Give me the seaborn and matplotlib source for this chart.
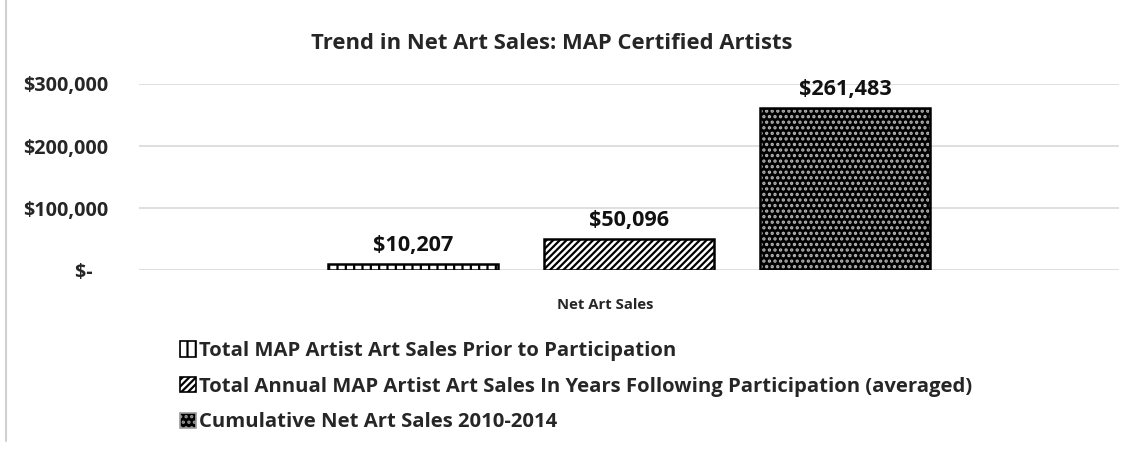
import matplotlib
matplotlib.use("Agg")
import matplotlib.pyplot as plt
import matplotlib.patches as mpatches
from matplotlib.lines import Line2D
import seaborn as sns
import pandas as pd

# chart data
category = ["Net Art Sales"]
series = [
    "Total MAP Artist Art Sales Prior to Participation",
    "Total Annual MAP Artist Art Sales In Years Following Participation (averaged)",
    "Cumulative Net Art Sales 2010-2014",
]
values = [10207, 50096, 261483]
y_ticks = [0, 100000, 200000, 300000]
y_tick_labels = ["$-   ", "$100,000", "$200,000", "$300,000"]

df = pd.DataFrame({"cat": category * len(series), "series": series, "value": values})

sns.set_style("white")
plt.rcParams["font.family"] = ["Open Sans", "DejaVu Sans"]
plt.rcParams["font.weight"] = "bold"
plt.rcParams["hatch.linewidth"] = 1.6

fig = plt.figure(figsize=(11.28, 4.55), dpi=100)
ax = fig.add_axes([0.1232, 0.4055, 0.8688, 0.41])

sns.barplot(data=df, x="cat", y="value", hue="series", hue_order=series,
            width=0.661, gap=0.21, ax=ax, legend=False, saturation=1)

faces = ["white", "white", "black"]
hatches = ["||", "/////", "..."]
edges = ["black", "black", "#b5b5b5"]
patches = list(ax.patches)
for p, fc, h, ec in zip(patches, faces, hatches, edges):
    p.set_facecolor(fc)
    p.set_hatch(h)
    p.set_edgecolor(ec)
    p.set_linewidth(0)
    # outline on top
    ax.add_patch(mpatches.Rectangle(p.get_xy(), p.get_width(), p.get_height(),
                                    fill=False, edgecolor="black", linewidth=1.8, zorder=3))

for cont in ax.containers:
    ax.bar_label(cont, labels=[f"${v:,.0f}" for v in cont.datavalues],
                 padding=6, fontsize=15.6, fontweight="bold", color="#111111")

ax.set_xlim(-0.5, 0.5)
ax.set_ylim(0, 300000)
ax.set_yticks(y_ticks)
ax.set_yticklabels(y_tick_labels, fontsize=14.2, fontweight="bold")
ax.tick_params(axis="y", length=0, pad=22)
ax.set_xticks([])
ax.yaxis.grid(True, color="#d9d9d9", linewidth=1.2)
ax.set_axisbelow(True)
for s in ax.spines.values():
    s.set_visible(False)

ax.set_ylabel("")
ax.set_xlabel("Net Art Sales", fontsize=10.7, fontweight="bold")
ax.xaxis.set_label_coords(0.4755, -0.15)

fig.text(0.489, 0.905, "Trend in Net Art Sales: MAP Certified Artists",
         ha="center", va="center", fontsize=15.8, fontweight="bold")

handles = []
for fc, h, ec in zip(faces, hatches, edges):
    handles.append(mpatches.Patch(facecolor=fc, hatch=h,
                                  edgecolor="black" if fc == "white" else "#9a9a9a",
                                  linewidth=1.2))
fig.legend(handles, series, loc="upper left", bbox_to_anchor=(0.152, 0.268),
           frameon=False, handlelength=0.8, handleheight=0.8,
           handletextpad=0.15, labelspacing=0.77, borderaxespad=0,
           prop={"weight": "bold", "size": 14.55})

fig.add_artist(Line2D([0.005, 0.005], [0.03, 1.0], color="#d0d0d0", linewidth=1.5,
                      transform=fig.transFigure))

fig.savefig("out.png", dpi=100)
